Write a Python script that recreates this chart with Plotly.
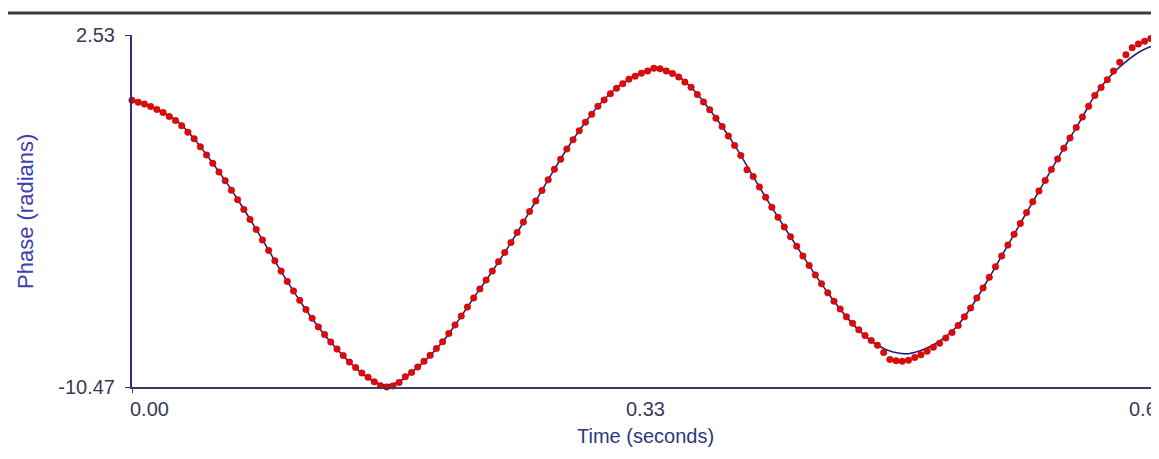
import plotly.graph_objects as go

# ---- data ----
fit_step = 0.01
fit_phase = [0.12, -0.06, -0.33, -0.70, -1.30, -2.05, -2.85, -3.72, -4.65, -5.62,
             -6.57, -7.45, -8.25, -8.95, -9.55, -10.05, -10.37, -10.32, -9.93, -9.42,
             -8.80, -8.02, -7.18, -6.36, -5.50, -4.58, -3.60, -2.62, -1.68, -0.84,
             -0.10, 0.48, 0.90, 1.18, 1.28, 1.07, 0.60, -0.08, -0.85, -1.72,
             -2.70, -3.65, -4.56, -5.45, -6.33, -7.15, -7.88, -8.48, -8.93, -9.18,
             -9.24, -9.08, -8.78, -8.30, -7.55, -6.62, -5.63, -4.63, -3.63, -2.64,
             -1.65, -0.70, 0.30, 1.02, 1.55, 1.95, 2.20]
fit_time = [round(i * fit_step, 3) for i in range(len(fit_phase))]

meas_step = 0.004
meas_phase = [0.12, 0.05, -0.02, -0.11, -0.22, -0.33, -0.48, -0.63, -0.82, -1.06,
              -1.30, -1.60, -1.90, -2.21, -2.53, -2.85, -3.20, -3.55, -3.91, -4.28,
              -4.65, -5.04, -5.43, -5.81, -6.19, -6.57, -6.92, -7.27, -7.61, -7.93,
              -8.25, -8.53, -8.81, -9.07, -9.31, -9.55, -9.75, -9.95, -10.11, -10.28,
              -10.42, -10.47, -10.43, -10.30, -10.09, -9.93, -9.73, -9.52, -9.30, -9.05,
              -8.80, -8.49, -8.18, -7.85, -7.52, -7.18, -6.85, -6.52, -6.19, -5.84,
              -5.50, -5.13, -4.76, -4.38, -3.99, -3.60, -3.21, -2.82, -2.43, -2.06,
              -1.68, -1.34, -1.01, -0.69, -0.40, -0.10, 0.13, 0.36, 0.56, 0.73,
              0.90, 1.01, 1.12, 1.20, 1.30, 1.28, 1.20, 1.11, 0.98, 0.79,
              0.60, 0.33, 0.06, -0.23, -0.54, -0.85, -1.20, -1.55, -1.92, -2.45,
              -2.70, -3.08, -3.46, -3.83, -4.20, -4.56, -4.92, -5.27, -5.63, -5.98,
              -6.33, -6.66, -6.99, -7.30, -7.59, -7.88, -8.12, -8.36, -8.57, -8.75,
              -8.93, -9.20, -9.45, -9.50, -9.52, -9.48, -9.38, -9.28, -9.15, -9.00,
              -8.85, -8.66, -8.46, -8.20, -7.88, -7.55, -7.18, -6.81, -6.42, -6.03,
              -5.63, -5.23, -4.83, -4.43, -4.03, -3.63, -3.23, -2.84, -2.44, -2.05,
              -1.65, -1.27, -0.89, -0.50, -0.10, 0.30, 0.59, 0.88, 1.20, 1.52,
              1.80, 2.06, 2.20, 2.30, 2.40, 2.48]
meas_time = [round(i * meas_step, 3) for i in range(len(meas_phase))]

y_range = [-10.47, 2.53]
x_range = [0.0, 0.66]
y_ticks = [2.53, -10.47]
y_ticktext = ["2.53", "-10.47"]
x_ticks = [0.0, 0.33, 0.66]
x_ticktext = ["0.00", "0.33", "0.66"]

FONT = "Liberation Sans, Arial, sans-serif"
TICK_COLOR = "#3a3a58"

fig = go.Figure()
fig.add_trace(go.Scatter(x=fit_time, y=fit_phase, mode="lines",
                         line=dict(color="#23237a", width=1.6, shape="spline"),
                         hoverinfo="skip", showlegend=False))
fig.add_trace(go.Scatter(x=meas_time, y=meas_phase, mode="markers",
                         marker=dict(color="#e00a0a", size=6.5,
                                     line=dict(color="#b00000", width=0.5)),
                         cliponaxis=False, showlegend=False))

fig.update_layout(
    width=1159, height=459,
    margin=dict(l=124, r=10, t=27, b=80),
    paper_bgcolor="white", plot_bgcolor="white",
    font=dict(family=FONT, size=20, color=TICK_COLOR),
    xaxis=dict(range=x_range, showgrid=False, zeroline=False,
               showline=True, linecolor="#3b3b5e", linewidth=2,
               tickvals=[x_ticks[0], x_ticks[2]], ticks="outside", ticklen=4,
               tickcolor="#3b3b5e", showticklabels=False),
    yaxis=dict(range=y_range, showgrid=False, zeroline=False,
               showline=True, linecolor="#2c2c8a", linewidth=2,
               tickvals=y_ticks, ticktext=y_ticktext, ticks="outside",
               ticklen=5, tickcolor="#2c2c8a", ticklabelstandoff=6,
               tickfont=dict(family=FONT, size=20, color=TICK_COLOR)),
    shapes=[dict(type="line", xref="paper", yref="paper",
                 x0=-0.121, x1=1.02, y0=1.0625, y1=1.0625,
                 line=dict(color="#3c3c3c", width=3))],
)

# x tick labels (first label left-aligned at its tick, like the original)
fig.add_annotation(x=x_ticks[0], y=-0.0625, xref="x", yref="paper",
                   text=x_ticktext[0], showarrow=False, xanchor="left",
                   yanchor="middle", xshift=-4,
                   font=dict(family=FONT, size=20, color=TICK_COLOR))
fig.add_annotation(x=x_ticks[1], y=-0.0625, xref="x", yref="paper",
                   text=x_ticktext[1], showarrow=False, xanchor="center",
                   yanchor="middle", xshift=1,
                   font=dict(family=FONT, size=20, color=TICK_COLOR))
fig.add_annotation(x=x_ticks[2], y=-0.0625, xref="x", yref="paper",
                   text=x_ticktext[2], showarrow=False, xanchor="left",
                   yanchor="middle", xshift=-30,
                   font=dict(family=FONT, size=20, color=TICK_COLOR))

# axis titles
fig.add_annotation(x=0.5, y=-0.1406, xref="paper", yref="paper",
                   text="Time (seconds)", showarrow=False, xanchor="center",
                   yanchor="middle", xshift=1,
                   font=dict(family=FONT, size=20, color="#2b3a7c"))
fig.add_annotation(x=-0.1044, y=0.5, xref="paper", yref="paper",
                   text="Phase (radians)", showarrow=False, textangle=-90,
                   xanchor="center", yanchor="middle",
                   font=dict(family=FONT, size=22, color="#4040b0"))

fig.write_html("out.html")
